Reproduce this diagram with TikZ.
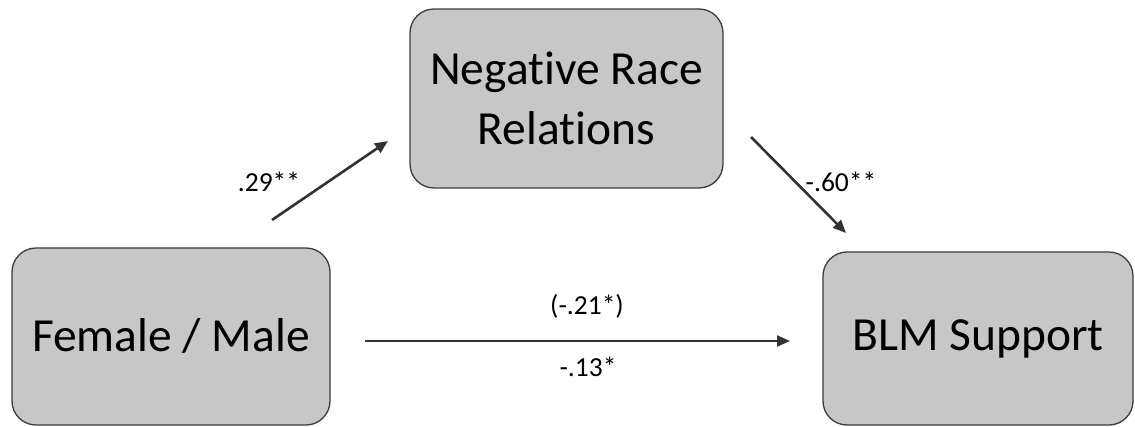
\documentclass[tikz,border=0pt]{standalone}
\usepackage{fontspec}
\setmainfont{Carlito}[Ligatures=NoCommon]
\usetikzlibrary{arrows.meta}
\definecolor{boxfill}{RGB}{199,199,199}
\definecolor{boxline}{RGB}{60,60,60}
\definecolor{arrowcol}{RGB}{50,50,50}
\begin{document}
\begin{tikzpicture}[x=1pt,y=-1pt,
  box/.style={draw=boxline, line width=1.3pt, fill=boxfill, rounded corners=24pt,
    text=black, font=\fontsize{47.5}{60}\selectfont, align=center, inner sep=0pt},
  conn/.style={draw=arrowcol, line width=2.6pt, -{Triangle[length=13pt,width=11pt]}},
  lbl/.style={font=\fontsize{27.5}{30}\selectfont, text=black, inner sep=0pt}]
\useasboundingbox[fill=white] (0,0) rectangle (1135,427);
\node[box, minimum width=313pt, minimum height=179pt] (nrr) at (566.5,98.5) {Negative Race\\Relations};
\node[box, minimum width=318pt, minimum height=177pt] (fm) at (171,336.5) {Female / Male};
\node[box, minimum width=310pt, minimum height=173pt] (blm) at (978,338.5) {BLM Support};
\coordinate (a1s) at (272,220);
\coordinate (a1e) at (388,141);
\coordinate (a2s) at (751,137);
\coordinate (a2e) at (846,233);
\coordinate (a3s) at (365,341);
\coordinate (a3e) at (790,341);
\draw[conn] (a1s) -- (a1e);
\draw[conn] (a2s) -- (a2e);
\draw[conn, line width=2.2pt] (a3s) -- (a3e);
\node[lbl] (l1) at (269,182) {.29**};
\node[lbl] (l2) at (841,182) {-.60**};
\node[lbl] (l3) at (587,306) {(-.21*)};
\node[lbl] (l4) at (588,367) {-.13*};
\end{tikzpicture}
\end{document}
